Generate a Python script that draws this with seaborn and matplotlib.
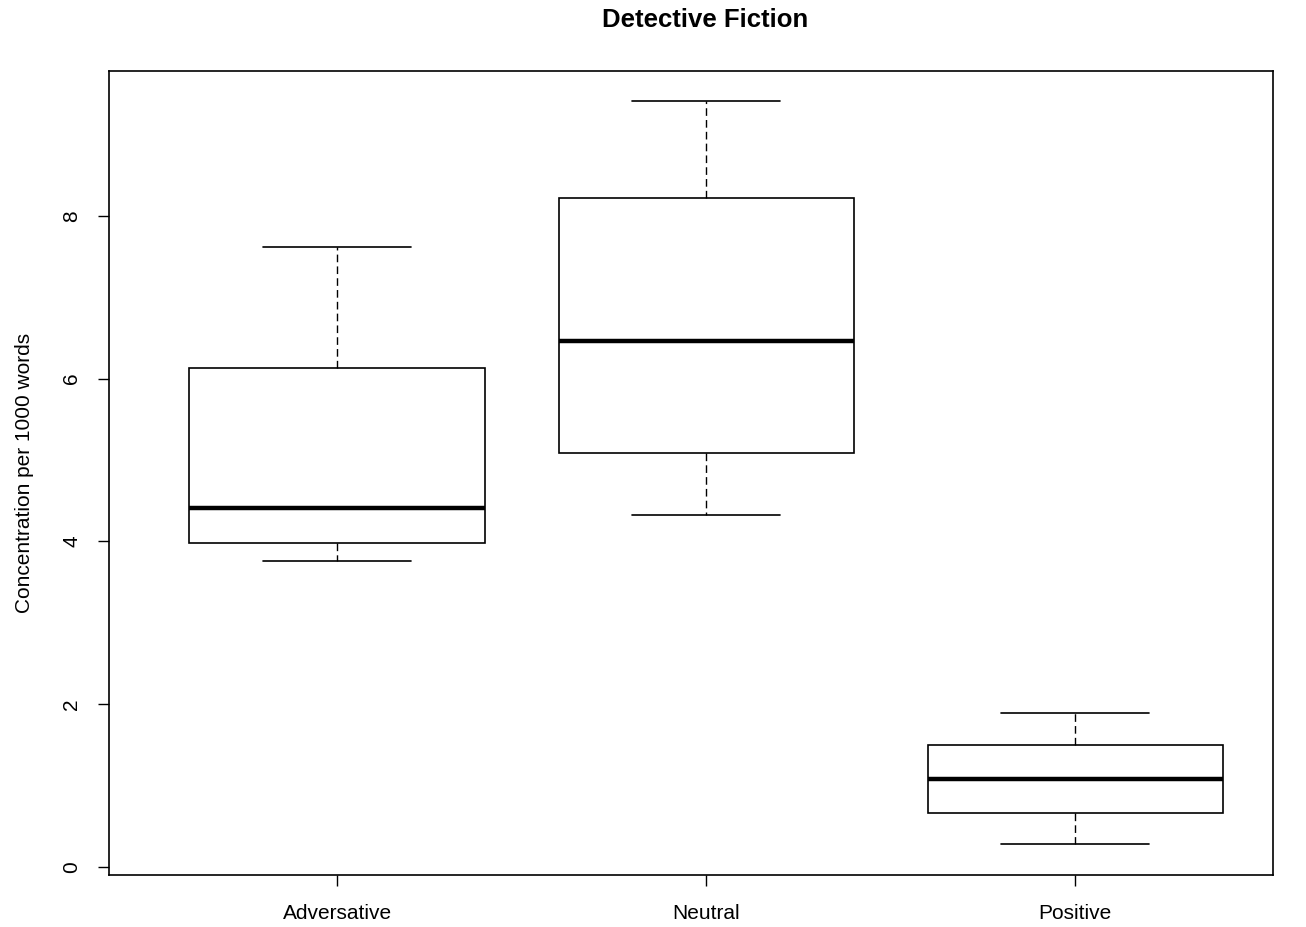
import matplotlib
matplotlib.use("Agg")
import matplotlib.pyplot as plt
import seaborn as sns
import pandas as pd

# Five-number summaries per category: min, Q1, median, Q3, max
categories = ["Adversative", "Neutral", "Positive"]
adversative = [3.76, 3.98, 4.41, 6.13, 7.62]
neutral = [4.33, 5.09, 6.46, 8.22, 9.41]
positive = [0.28, 0.66, 1.08, 1.50, 1.89]
y_ticks = [0, 2, 4, 6, 8]

df = pd.DataFrame({
    "category": [c for c, vals in zip(categories, [adversative, neutral, positive]) for _ in vals],
    "value": adversative + neutral + positive,
})

sns.set_theme(style="white")
plt.rcParams["font.family"] = ["Liberation Sans", "DejaVu Sans"]
plt.rcParams["text.color"] = "black"
plt.rcParams["axes.labelcolor"] = "black"

fig = plt.figure(figsize=(13.06, 9.27), dpi=100)
ax = fig.add_axes([109 / 1306, 1 - 875 / 927, (1273 - 109) / 1306, (875 - 71) / 927])

sns.boxplot(
    data=df, x="category", y="value", order=categories, ax=ax,
    width=0.8, whis=(0, 100), color="white", linecolor="black", saturation=1,
    boxprops=dict(linewidth=1.2),
    whiskerprops=dict(linewidth=1.0, linestyle=(0, (5.5, 3)), color="black"),
    capprops=dict(linewidth=1.2, color="black"),
    medianprops=dict(linewidth=3.2, color="black"),
    capwidths=0.4, showfliers=False,
)
# R-style boxes: filled white with black edges
for patch in ax.patches:
    patch.set_facecolor("white")
    patch.set_edgecolor("black")

ax.set_xlim(-0.618, 2.536)
ax.set_ylim(-0.098, 9.78)
ax.set_yticks(y_ticks)
ax.set_yticklabels([str(t) for t in y_ticks], rotation=90, va="center")
ax.set_xlabel("")
ax.set_ylabel("Concentration per 1000 words", fontsize=15, labelpad=20, color="black")

fig.text(705 / 1306, 1 - 20 / 927, "Detective Fiction", fontsize=18.5,
         fontweight="bold", color="black", ha="center", va="center")

for spine in ax.spines.values():
    spine.set_visible(True)
    spine.set_color("black")
    spine.set_linewidth(1.2)

ax.tick_params(axis="both", which="both", direction="out", length=8, width=1.0,
               color="black", labelsize=15, labelcolor="black",
               left=True, bottom=True)
ax.tick_params(axis="x", pad=13)
ax.tick_params(axis="y", pad=12)

fig.savefig("out.png", dpi=100, facecolor="white")
